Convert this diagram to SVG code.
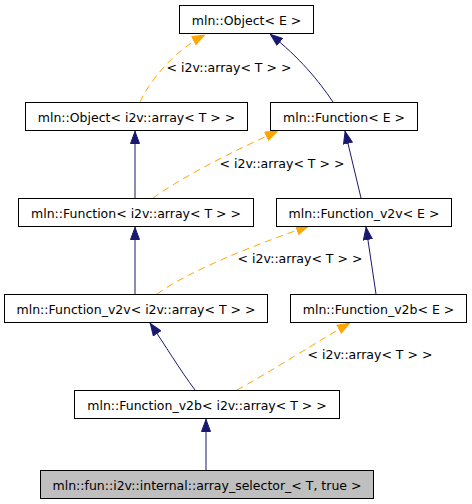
<svg xmlns="http://www.w3.org/2000/svg" width="472" height="504" viewBox="0 0 472 504">
<style>
.n rect{fill:#fff;stroke:#000;stroke-width:1}
.n.sel rect{fill:#bfbfbf}
.n text,.lbl{font-family:"DejaVu Sans",sans-serif;font-size:12.5px;fill:#000;text-anchor:middle}
.inh{fill:none;stroke:#191970;stroke-width:1;marker-end:url(#an)}
.tpl{fill:none;stroke:#ffa500;stroke-width:1;stroke-dasharray:7,5;marker-end:url(#ao)}
</style>
<defs>
<marker id="an" viewBox="0 0 13 10" refX="13" refY="5" markerWidth="13" markerHeight="10" markerUnits="userSpaceOnUse" orient="auto"><path d="M0.5,0.5 L12.5,5 L0.5,9.5 z" fill="#191970" stroke="#191970"/></marker>
<marker id="ao" viewBox="0 0 13 10" refX="13" refY="5" markerWidth="13" markerHeight="10" markerUnits="userSpaceOnUse" orient="auto"><path d="M0.5,0.5 L12.5,5 L0.5,9.5 z" fill="#ffa500" stroke="#ffa500"/></marker>
</defs>
<g id="connectors">
<path class="tpl" d="M140,102 C150,80 175,50 205,35"/>
<text class="lbl" x="229" y="71.5">&lt; i2v::array&lt; T &gt; &gt;</text>
<path class="inh" d="M333,102 C318,80 300,58 270,34"/>
<path class="inh" d="M135,198 L135,131"/>
<path class="tpl" d="M153,198 C185,175 240,148 278,131"/>
<text class="lbl" x="282" y="167.5">&lt; i2v::array&lt; T &gt; &gt;</text>
<path class="inh" d="M361,198 L345,131"/>
<path class="inh" d="M135,294 L135,227"/>
<path class="tpl" d="M157,294 C190,270 260,243 309,226"/>
<text class="lbl" x="300" y="263">&lt; i2v::array&lt; T &gt; &gt;</text>
<path class="inh" d="M376,294 L366,227"/>
<path class="inh" d="M195,390 C180,370 165,345 150,323"/>
<path class="tpl" d="M237,390 C270,372 320,340 350,323"/>
<text class="lbl" x="370" y="359">&lt; i2v::array&lt; T &gt; &gt;</text>
<path class="inh" d="M206,470 L206,419"/>
</g>
<g id="n1" class="n"><rect x="179.5" y="5.5" width="134" height="28"/><text x="246.5" y="25">mln::Object&lt; E &gt;</text></g>
<g id="n2" class="n"><rect x="25.5" y="102.5" width="222" height="28"/><text x="136.5" y="122">mln::Object&lt; i2v::array&lt; T &gt; &gt;</text></g>
<g id="n3" class="n"><rect x="270.5" y="102.5" width="147" height="28"/><text x="344" y="122">mln::Function&lt; E &gt;</text></g>
<g id="n4" class="n"><rect x="18.5" y="198.5" width="235" height="28"/><text x="136" y="218">mln::Function&lt; i2v::array&lt; T &gt; &gt;</text></g>
<g id="n5" class="n"><rect x="276.5" y="198.5" width="175" height="28"/><text x="364" y="218">mln::Function_v2v&lt; E &gt;</text></g>
<g id="n6" class="n"><rect x="4.5" y="294.5" width="263" height="28"/><text x="136" y="314">mln::Function_v2v&lt; i2v::array&lt; T &gt; &gt;</text></g>
<g id="n7" class="n"><rect x="290.5" y="294.5" width="176" height="28"/><text x="378.5" y="314">mln::Function_v2b&lt; E &gt;</text></g>
<g id="n8" class="n"><rect x="74.5" y="390.5" width="265" height="28"/><text x="207" y="410">mln::Function_v2b&lt; i2v::array&lt; T &gt; &gt;</text></g>
<g id="n9" class="n sel"><rect x="40.5" y="470.5" width="333" height="28"/><text x="207" y="490">mln::fun::i2v::internal::array_selector_&lt; T, true &gt;</text></g>
</svg>
